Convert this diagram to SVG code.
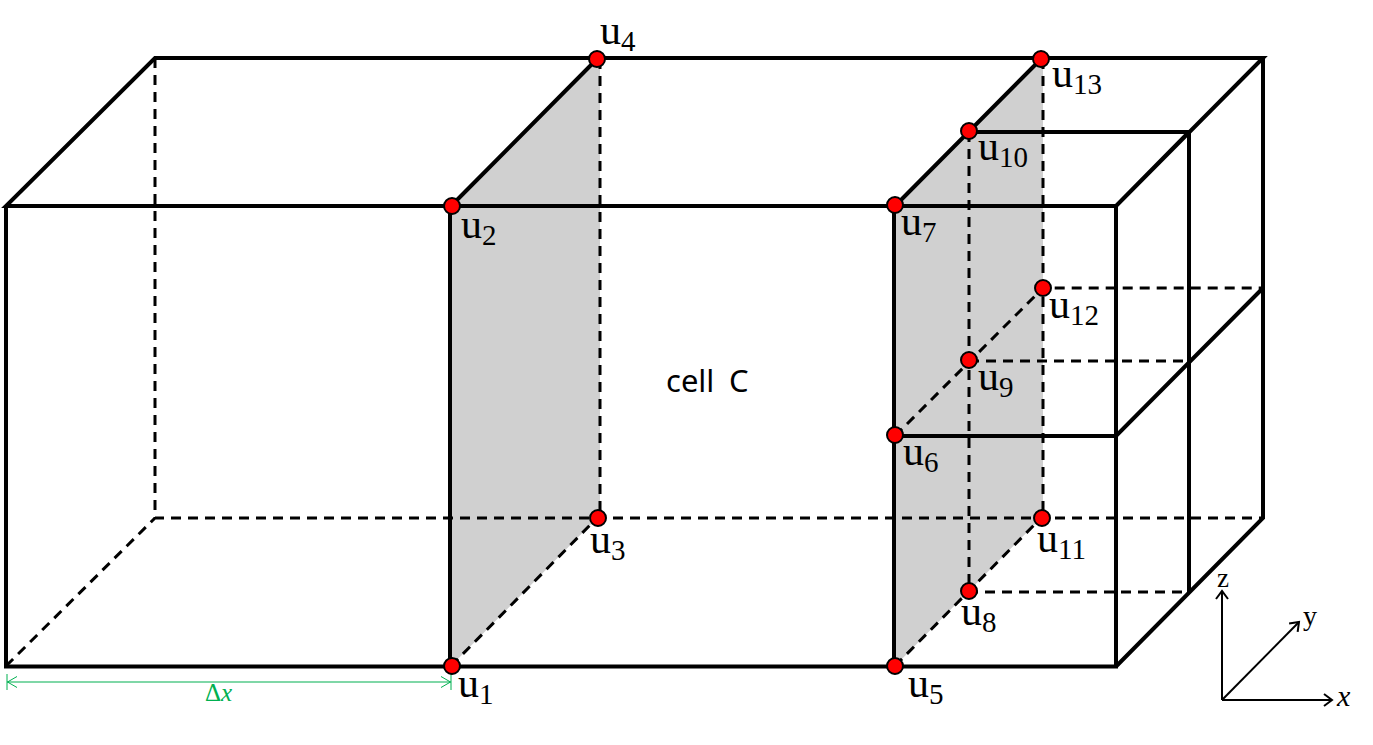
<svg xmlns="http://www.w3.org/2000/svg" width="1373" height="745" viewBox="0 0 1373 745">
<defs>
<marker id="a" markerWidth="14" markerHeight="14" refX="11" refY="7" orient="auto" markerUnits="userSpaceOnUse"><path d="M3 1L11 7L3 13" fill="none" stroke="#000" stroke-width="2"/></marker>
<marker id="g" markerWidth="12" markerHeight="18" refX="11" refY="9" orient="auto-start-reverse" markerUnits="userSpaceOnUse"><path d="M1 3.500L10.500 9L1 14.500M11 1V17" fill="none" stroke="#00b050" stroke-width="1"/></marker>
</defs>
<style>
.s{fill:none;stroke:#000;stroke-width:4}
.d{fill:none;stroke:#000;stroke-width:3;stroke-dasharray:10 7}
.n{fill:#f00;stroke:#000;stroke-width:2}
.ax{fill:none;stroke:#000;stroke-width:2;marker-end:url(#a)}
text{font-family:"Liberation Serif","DejaVu Serif",serif;font-size:42px;fill:#000}
.sub{font-size:29px}
</style>
<rect width="1373" height="745" fill="#fff"/>
<polygon points="451,206 597,59 600,59 600,518 597,518 451,666" fill="#d0d0d0"/>
<polygon points="895,206 1041,59 1043,59 1043,518 1041,518 895,666" fill="#d0d0d0"/>
<g id="connectors">
<path class="s" d="M6 206V666.500H1116V206H6L155 58H1263L1116 206M450 206V666.500M451 206L597 59M894 206V666.500M895 206L1041 59M969 132H1189V592M1116 206L1189 132M1263 58V518L1116 666.500M895 436H1116L1263 288"/>
<path class="d" d="M155 58V518H1263M6 666L155 518M600 59V518M451 666L597 518M1043 59V518M895 666L1041 518M969 132V592H1189M895 436L1043 288H1263M969 361H1189"/>
<path class="ax" d="M1222 700V591"/>
<path class="ax" d="M1222 700H1332"/>
<path class="ax" d="M1222 700L1299 622"/>
<path d="M7 682H451" fill="none" stroke="#00b050" stroke-width="1.200" marker-start="url(#g)" marker-end="url(#g)"/>
</g>
<g id="u1"><circle class="n" cx="452" cy="666" r="8"/><text x="458" y="697">u<tspan class="sub" dy="7">1</tspan></text></g>
<g id="u2"><circle class="n" cx="452" cy="206" r="8"/><text x="461" y="238">u<tspan class="sub" dy="7">2</tspan></text></g>
<g id="u3"><circle class="n" cx="598" cy="518" r="8"/><text x="590" y="553">u<tspan class="sub" dy="7">3</tspan></text></g>
<g id="u4"><circle class="n" cx="597" cy="59" r="8"/><text x="600" y="44">u<tspan class="sub" dy="7">4</tspan></text></g>
<g id="u5"><circle class="n" cx="895" cy="666" r="8"/><text x="908" y="697">u<tspan class="sub" dy="7">5</tspan></text></g>
<g id="u6"><circle class="n" cx="895" cy="435" r="8"/><text x="903" y="465">u<tspan class="sub" dy="7">6</tspan></text></g>
<g id="u7"><circle class="n" cx="895" cy="205" r="8"/><text x="901" y="235">u<tspan class="sub" dy="7">7</tspan></text></g>
<g id="u8"><circle class="n" cx="969" cy="591" r="8"/><text x="961" y="625">u<tspan class="sub" dy="7">8</tspan></text></g>
<g id="u9"><circle class="n" cx="969" cy="360" r="8"/><text x="978" y="390">u<tspan class="sub" dy="7">9</tspan></text></g>
<g id="u10"><circle class="n" cx="969" cy="131" r="8"/><text x="978" y="160">u<tspan class="sub" dy="7">10</tspan></text></g>
<g id="u11"><circle class="n" cx="1042" cy="518" r="8"/><text x="1037" y="552">u<tspan class="sub" dy="7">11</tspan></text></g>
<g id="u12"><circle class="n" cx="1043" cy="288" r="8"/><text x="1049" y="318">u<tspan class="sub" dy="7">12</tspan></text></g>
<g id="u13"><circle class="n" cx="1041" cy="59" r="8"/><text x="1052" y="87">u<tspan class="sub" dy="7">13</tspan></text></g>
<text x="666" y="392" style="font-family:'Noto Sans',sans-serif;font-size:31px">cell<tspan x="729">C</tspan></text>
<text x="205" y="701" style="font-size:25px;fill:#00b050">Δ<tspan style="font-style:italic">x</tspan></text>
<text x="1217" y="587" style="font-size:27px">z</text>
<text x="1303" y="625" style="font-size:28px">y</text>
<text x="1337" y="706" style="font-size:30px;font-style:italic">x</text>
</svg>
